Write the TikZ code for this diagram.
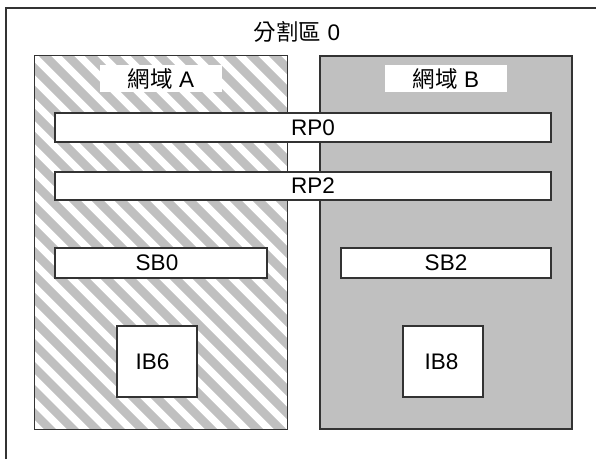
\documentclass[tikz,border=0pt]{standalone}
\usepackage{fontspec}
\setmainfont{Liberation Sans}
\newfontfamily\cjk{Noto Sans CJK TC}
\definecolor{edge}{HTML}{333333}
\definecolor{shade}{HTML}{C0C0C0}
\begin{document}
\begin{tikzpicture}[x=1pt,y=-1pt,
  txt/.style={font=\fontsize{22.5}{27}\selectfont},
  domainbox/.style={inner sep=0pt, minimum width=252pt, minimum height=373pt},
  domainline/.style={draw=edge, line width=1.2pt},
  labelbox/.style={txt, fill=white, inner sep=0pt, minimum width=122pt, minimum height=27pt},
  whitebox/.style={txt, draw=edge, fill=white, line width=1.4pt, inner sep=0pt},
  hatch/.style={draw=shade, line width=8.5pt}]
\useasboundingbox (0,0) rectangle (596,459);
\fill[white] (0,0) rectangle (596,459);
% outer partition frame (only left and top edges visible)
\coordinate (fbl) at (6,459);
\coordinate (ftl) at (6,8);
\coordinate (ftr) at (596,8);
\draw[edge, line width=1.2pt] (fbl) -- (ftl) -- (ftr);
\node[txt] (title) at (297,32) {{\cjk 分割區} 0};
% domain A (hatched)
\node[domainbox] (domA) at (161,242.5) {};
\begin{scope}
  \clip (domA.north west) rectangle (domA.south east);
  \foreach \k in {-18,...,11} {
    \draw[hatch] ({-11+23*\k},0) -- ({-11+23*\k+700},700);
  }
\end{scope}
\draw[domainline] (domA.north west) rectangle (domA.south east);
% domain B (gray)
\node[domainbox, fill=shade, domainline] (domB) at (446,242.5) {};
% domain labels
\node[labelbox] (labA) at (161,78.5) {{\cjk 網域} A};
\node[labelbox] (labB) at (446,78.5) {{\cjk 網域} B};
% boxes
\node[whitebox, minimum width=496pt, minimum height=29pt] (rp0) at (303,127.5) {\hspace*{20pt}RP0};
\node[whitebox, minimum width=496pt, minimum height=28pt] (rp2) at (303,186) {\hspace*{20pt}RP2};
\node[whitebox, minimum width=212pt, minimum height=30pt] (sb0) at (161,263) {SB0\hspace*{8pt}};
\node[whitebox, minimum width=210pt, minimum height=30pt] (sb2) at (446,263) {SB2};
\node[whitebox, minimum width=80pt, minimum height=71pt] (ib6) at (157,361.5) {IB6\hspace*{9pt}};
\node[whitebox, minimum width=80pt, minimum height=71pt] (ib8) at (443,361.5) {IB8\hspace*{3pt}};
\end{tikzpicture}
\end{document}
